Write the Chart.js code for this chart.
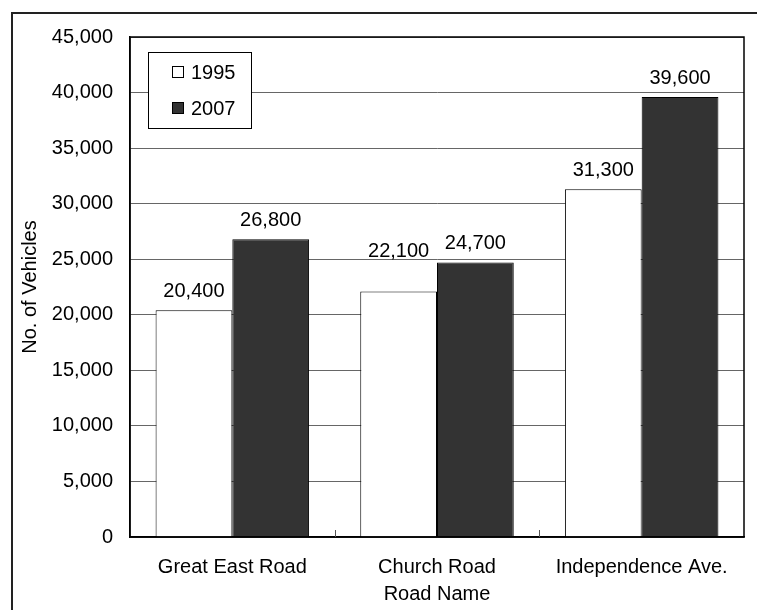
<!DOCTYPE html>
<html>
<head>
<meta charset="utf-8">
<title>Vehicles by road</title>
<script src="https://cdn.jsdelivr.net/npm/chart.js@4.4.0/dist/chart.umd.min.js"></script>
<style>
  html, body { margin: 0; padding: 0; background: #fff; }
  canvas { display: block; }
</style>
</head>
<body>
<canvas id="roadChart" width="757" height="610"></canvas>
<script>
const roads = ["Great East Road", "Church Road", "Independence Ave."];
const years = ["1995", "2007"];
const counts1995 = [20400, 22100, 31300];
const counts2007 = [26800, 24700, 39600];
const barColors = ["#ffffff", "#333333"];

const FONT = "'Liberation Sans', Arial, sans-serif";
const fmt = (v) => v.toLocaleString("en-US");

// frame around the whole figure, plus the box on the plot area
const framePlugin = {
  id: "frame",
  beforeDraw(chart) {
    const c = chart.ctx;
    c.save();
    c.fillStyle = "#fff";
    c.fillRect(0, 0, chart.width, chart.height);
    c.strokeStyle = "#222";
    c.lineWidth = 2;
    c.strokeRect(12, 13, chart.width + 20, chart.height + 20);
    c.restore();
  },
  afterDraw(chart) {
    const c = chart.ctx;
    const a = chart.chartArea;
    const x = chart.scales.x;
    c.save();
    c.strokeStyle = "#000";
    c.lineWidth = 1.5;
    c.strokeRect(a.left, a.top, a.right - a.left, a.bottom - a.top);
    // small tick marks between categories
    c.lineWidth = 1;
    c.strokeStyle = "#555";
    for (let i = 0; i < roads.length - 1; i++) {
      const px = Math.round((x.getPixelForValue(i) + x.getPixelForValue(i + 1)) / 2) + 0.5;
      c.beginPath();
      c.moveTo(px, a.bottom);
      c.lineTo(px, a.bottom - 7);
      c.stroke();
    }
    c.restore();
  }
};

// value labels over each bar (labelLift nudges a crowded label upward)
const valueLabels = {
  id: "valueLabels",
  afterDatasetsDraw(chart) {
    const c = chart.ctx;
    c.save();
    c.font = "20px " + FONT;
    c.fillStyle = "#000";
    c.textAlign = "center";
    c.textBaseline = "bottom";
    chart.data.datasets.forEach((ds, i) => {
      const lift = ds.labelLift || [];
      chart.getDatasetMeta(i).data.forEach((bar, j) => {
        c.fillText(fmt(ds.data[j]), bar.x, bar.y - 9 - (lift[j] || 0));
      });
    });
    c.restore();
  }
};

// boxed legend in the upper left of the plot
const boxLegend = {
  id: "boxLegend",
  afterDraw(chart) {
    const c = chart.ctx;
    const bx = 148, by = 52, bw = 103, bh = 76;
    c.save();
    c.fillStyle = "#fff";
    c.fillRect(bx, by, bw, bh);
    c.strokeStyle = "#000";
    c.lineWidth = 1;
    c.strokeRect(bx + 0.5, by + 0.5, bw, bh);
    c.font = "20px " + FONT;
    c.textBaseline = "middle";
    chart.data.datasets.forEach((ds, i) => {
      const cy = by + 20 + i * 36;
      c.fillStyle = ds.backgroundColor;
      c.fillRect(172, cy - 6, 11, 11);
      c.strokeStyle = "#000";
      c.strokeRect(172.5, cy - 5.5, 11, 11);
      c.fillStyle = "#000";
      c.fillText(ds.label, 191, cy + 1);
    });
    c.restore();
  }
};

new Chart(document.getElementById("roadChart"), {
  type: "bar",
  data: {
    labels: roads,
    datasets: [
      { label: years[0], data: counts1995, backgroundColor: barColors[0], borderColor: "#000", borderWidth: 1, labelLift: [0, 21, 0] },
      { label: years[1], data: counts2007, backgroundColor: barColors[1], borderColor: "#000", borderWidth: 1 }
    ]
  },
  options: {
    responsive: false,
    animation: false,
    layout: { padding: { left: 0, top: 37, right: 13, bottom: 0 } },
    datasets: { bar: { barPercentage: 1, categoryPercentage: 0.75 } },
    plugins: { legend: { display: false }, tooltip: { enabled: false } },
    scales: {
      x: {
        afterFit(s) { s.height = 73; },
        grid: { display: false },
        border: { color: "#000", width: 1.5 },
        ticks: { color: "#000", padding: 10, font: { family: FONT, size: 20 } },
        title: { display: true, text: "Road Name", color: "#000", padding: { top: 4, bottom: 4 }, font: { family: FONT, size: 20 } }
      },
      y: {
        min: 0,
        max: 45000,
        afterFit(s) { s.width = 130; },
        grid: { color: "#666", lineWidth: 1, drawTicks: false },
        border: { color: "#000", width: 1.5 },
        ticks: { stepSize: 5000, color: "#000", padding: 17, font: { family: FONT, size: 20 }, callback: (v) => fmt(v) },
        title: { display: true, text: "No. of Vehicles", color: "#000", padding: { top: 18, bottom: 4 }, font: { family: FONT, size: 20 } }
      }
    }
  },
  plugins: [framePlugin, valueLabels, boxLegend]
});
</script>
</body>
</html>
